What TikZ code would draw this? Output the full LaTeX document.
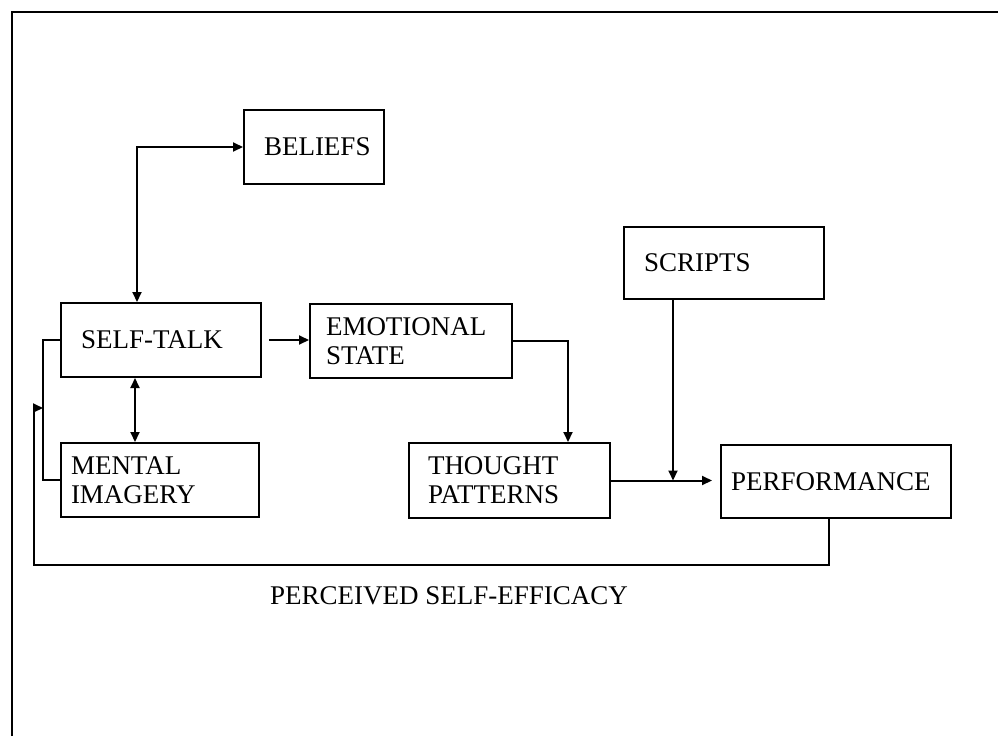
\documentclass[tikz,border=0pt]{standalone}
\usepackage{fontspec}
\setmainfont{Liberation Serif}
\usetikzlibrary{arrows.meta}
\begin{document}
\begin{tikzpicture}[x=1pt,y=-1pt,
  txt/.style={font=\fontsize{27}{29}\selectfont},
  box/.style={draw, line width=2pt, anchor=north west, align=left, inner ysep=0pt, txt},
  conn/.style={line width=2pt},
  tip/.style={-{Triangle[length=10pt,width=9pt]}},
  dtip/.style={{Triangle[length=10pt,width=9pt]}-{Triangle[length=10pt,width=9pt]}}]
\useasboundingbox (0,0) rectangle (998,736);
% outer frame (left and top edges only)
\draw[line width=2pt] (12,736) -- (12,12) -- (998,12);

\node[box, text width=100pt, inner xsep=20pt, minimum height=74pt] (beliefs) at (243,109) {BELIEFS};
\node[box, text width=160pt, inner xsep=20pt, minimum height=74pt] (selftalk) at (60,302) {SELF-TALK};
\node[box, text width=170pt, inner xsep=16pt, minimum height=74pt] (emotional) at (309,303) {EMOTIONAL\\STATE};
\node[box, text width=163pt, inner xsep=19pt, minimum height=75pt] (thought) at (408,442) {THOUGHT\\PATTERNS};
\node[box, text width=178pt, inner xsep=10pt, minimum height=74pt] (mental) at (60,442) {MENTAL\\IMAGERY};
\node[box, text width=160pt, inner xsep=20pt, minimum height=72pt] (scripts) at (623,226) {SCRIPTS\\[4pt]};
\node[box, text width=210pt, inner xsep=10pt, minimum height=73pt] (performance) at (720,444) {PERFORMANCE};
\node[txt] (pse) at (449,596) {PERCEIVED SELF-EFFICACY};

\coordinate (cb) at (137,0);
\coordinate (cm) at (135,0);
\coordinate (ct) at (568,0);
\coordinate (cs) at (673,0);
\coordinate (cl) at (43,0);
\coordinate (cf) at (829,0);
\coordinate (cfb) at (34,565);
\coordinate (cfu) at (34,408);
\coordinate (cfr) at (43,408);

\draw[conn, dtip] (selftalk.north -| cb) |- (beliefs.west);
\draw[conn, dtip] (selftalk.south -| cm) -- (mental.north -| cm);
\draw[conn, tip] ([xshift=7pt]selftalk.east) -- (emotional.west |- selftalk.east);
\draw[conn, tip] (emotional.east) -| (thought.north -| ct);
\draw[conn, tip] (thought.east) -- ([xshift=-8pt]performance.west |- thought.east);
\draw[conn, tip] (scripts.south -| cs) -- (cs |- thought.east);
\draw[conn] (selftalk.west) -| (cl |- mental.west) -- (mental.west);
\draw[conn, tip] (performance.south -| cf) |- (cfb) -- (cfu) -- (cfr);
\end{tikzpicture}
\end{document}
